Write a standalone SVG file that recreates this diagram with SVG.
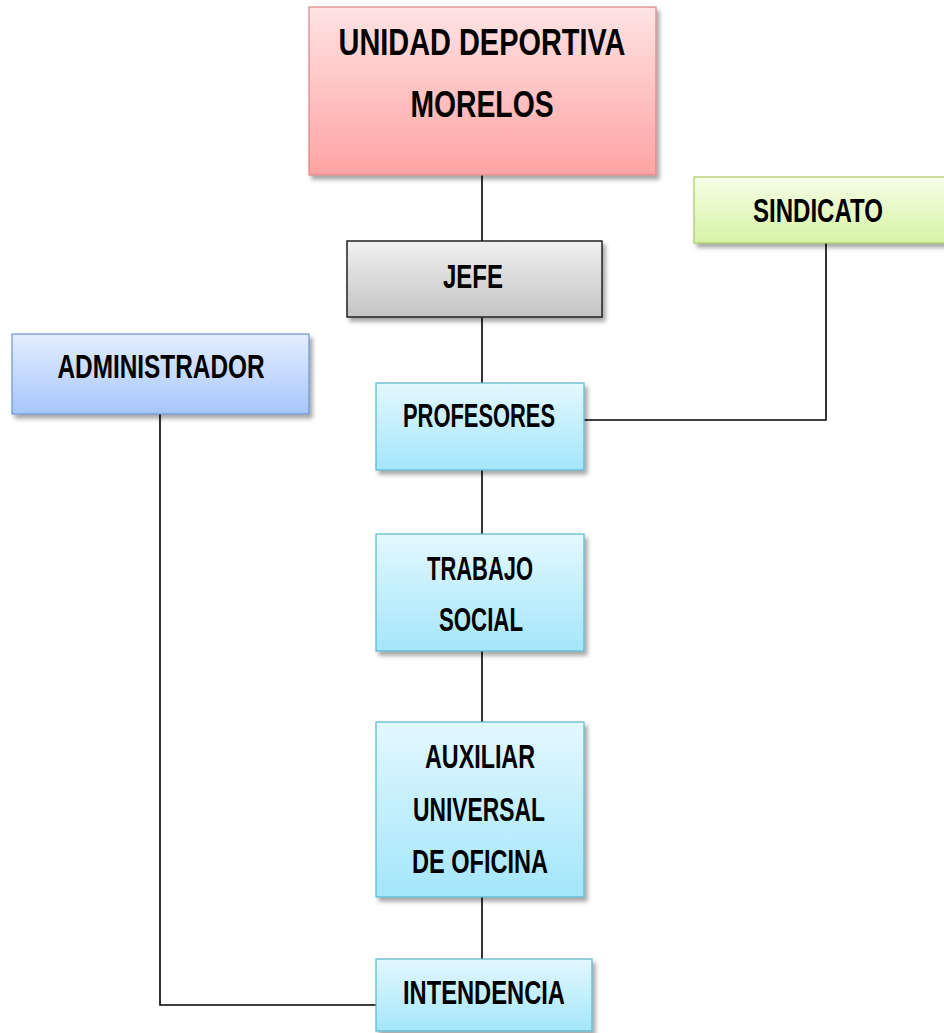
<svg xmlns="http://www.w3.org/2000/svg" width="944" height="1033" viewBox="0 0 944 1033">
<style>
.t{font-family:"Liberation Sans",Arial,sans-serif;font-weight:bold;font-size:33px;fill:#000;text-anchor:middle}
.big{font-size:36px}
.c{stroke:#000;stroke-width:1.6;fill:none}
</style>
<defs>
<filter id="sh" x="-10%" y="-10%" width="125%" height="130%">
<feDropShadow dx="3" dy="4" stdDeviation="2" flood-color="#000" flood-opacity="0.35"/>
</filter>
<linearGradient id="gRed" x1="0" y1="0" x2="0" y2="1"><stop offset="0" stop-color="#ffe3e3"/><stop offset="1" stop-color="#ffa3a3"/></linearGradient>
<linearGradient id="gGray" x1="0" y1="0" x2="0" y2="1"><stop offset="0" stop-color="#f0f0f0"/><stop offset="1" stop-color="#c4c4c4"/></linearGradient>
<linearGradient id="gGreen" x1="0" y1="0" x2="0" y2="1"><stop offset="0" stop-color="#f6ffe6"/><stop offset="1" stop-color="#d6f3a6"/></linearGradient>
<linearGradient id="gBlue" x1="0" y1="0" x2="0" y2="1"><stop offset="0" stop-color="#e4edff"/><stop offset="1" stop-color="#a6c6fb"/></linearGradient>
<linearGradient id="gCyan" x1="0" y1="0" x2="0" y2="1"><stop offset="0" stop-color="#e3f8ff"/><stop offset="1" stop-color="#a3e6fb"/></linearGradient>
</defs>
<rect width="944" height="1033" fill="#fff"/>
<g id="connectors">
<line class="c" x1="482" y1="175" x2="482" y2="241"/>
<line class="c" x1="482" y1="317" x2="482" y2="383"/>
<line class="c" x1="482" y1="470" x2="482" y2="534"/>
<line class="c" x1="482" y1="651" x2="482" y2="722"/>
<line class="c" x1="482" y1="897" x2="482" y2="959"/>
<polyline class="c" points="826,243 826,420 584,420"/>
<polyline class="c" points="160,414 160,1005 376,1005"/>
</g>
<g id="unidad">
<rect x="309" y="7" width="347" height="168" fill="url(#gRed)" stroke="#d98585" stroke-width="1.2" filter="url(#sh)"/>
<text class="t big" x="482" y="55" textLength="287" lengthAdjust="spacingAndGlyphs">UNIDAD DEPORTIVA</text>
<text class="t big" x="482" y="117" textLength="143" lengthAdjust="spacingAndGlyphs">MORELOS</text>
</g>
<g id="jefe">
<rect x="347" y="241" width="255" height="76" fill="url(#gGray)" stroke="#222" stroke-width="1.5" filter="url(#sh)"/>
<text class="t" x="473" y="288" textLength="60" lengthAdjust="spacingAndGlyphs">JEFE</text>
</g>
<g id="sindicato">
<rect x="694" y="177" width="256" height="66" fill="url(#gGreen)" stroke="#a8c868" stroke-width="1.2" filter="url(#sh)"/>
<text class="t" x="818" y="222" textLength="130" lengthAdjust="spacingAndGlyphs">SINDICATO</text>
</g>
<g id="administrador">
<rect x="12" y="334" width="297" height="80" fill="url(#gBlue)" stroke="#6d94cf" stroke-width="1.2" filter="url(#sh)"/>
<text class="t" x="161" y="378" textLength="207" lengthAdjust="spacingAndGlyphs">ADMINISTRADOR</text>
</g>
<g id="profesores">
<rect x="376" y="383" width="208" height="87" fill="url(#gCyan)" stroke="#5bb4cc" stroke-width="1.2" filter="url(#sh)"/>
<text class="t" x="479" y="427" textLength="152" lengthAdjust="spacingAndGlyphs">PROFESORES</text>
</g>
<g id="trabajo">
<rect x="376" y="534" width="208" height="117" fill="url(#gCyan)" stroke="#5bb4cc" stroke-width="1.2" filter="url(#sh)"/>
<text class="t" x="480" y="580" textLength="106" lengthAdjust="spacingAndGlyphs">TRABAJO</text>
<text class="t" x="481" y="631" textLength="84" lengthAdjust="spacingAndGlyphs">SOCIAL</text>
</g>
<g id="auxiliar">
<rect x="376" y="722" width="208" height="175" fill="url(#gCyan)" stroke="#5bb4cc" stroke-width="1.2" filter="url(#sh)"/>
<text class="t" x="480" y="768" textLength="110" lengthAdjust="spacingAndGlyphs">AUXILIAR</text>
<text class="t" x="479" y="821" textLength="132" lengthAdjust="spacingAndGlyphs">UNIVERSAL</text>
<text class="t" x="480" y="873" textLength="136" lengthAdjust="spacingAndGlyphs">DE OFICINA</text>
</g>
<g id="intendencia">
<rect x="376" y="959" width="216" height="72" fill="url(#gCyan)" stroke="#5bb4cc" stroke-width="1.2" filter="url(#sh)"/>
<text class="t" x="484" y="1004" textLength="162" lengthAdjust="spacingAndGlyphs">INTENDENCIA</text>
</g>
</svg>
